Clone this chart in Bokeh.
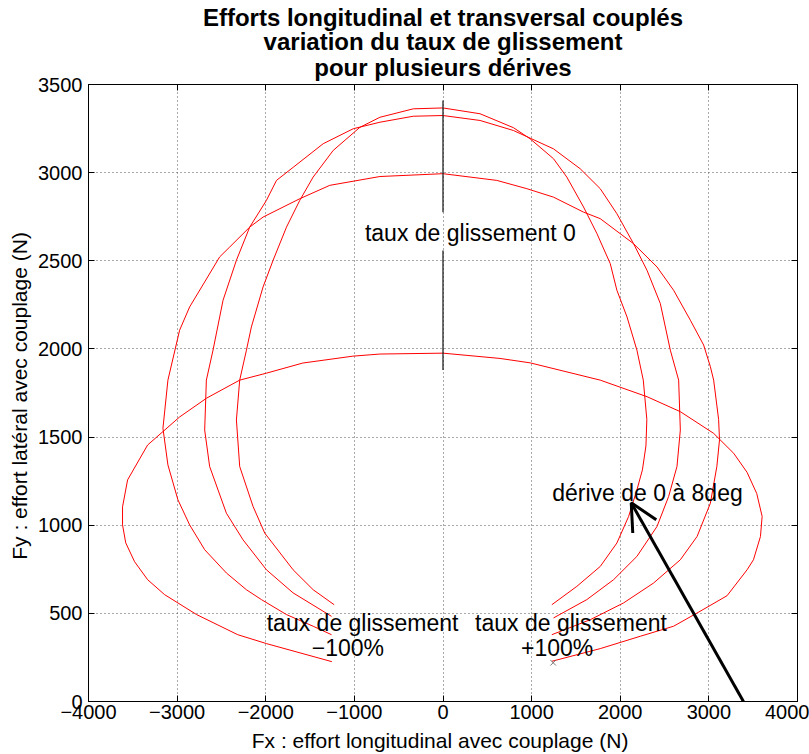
from bokeh.plotting import figure
from bokeh.models import Range1d, LinearAxis, FixedTicker, Label, Arrow, OpenHead, Title
from bokeh.embed import file_html
from bokeh.resources import INLINE

# ---- data ----
x_ticks = [-4000, -3000, -2000, -1000, 0, 1000, 2000, 3000, 4000]
x_tick_labels = ["\u22124000", "\u22123000", "\u22122000", "\u22121000", "0", "1000", "2000", "3000", "4000"]
y_ticks = [0, 500, 1000, 1500, 2000, 2500, 3000, 3500]
y_tick_labels = ["0", "500", "1000", "1500", "2000", "2500", "3000", "3500"]

# slip from -100% (left end) through 0 (top) to +100% (right end)
fx_derive_2 = [-1254, -1989, -2316, -2780, -3141, -3333, -3480, -3580, -3616, -3616, -3559, -3333, -2972,
               -2667, -2294, -1989, -1582, -1017, -712, 0, 644, 983, 1774, 2302, 2678, 3054, 3280, 3431,
               3540, 3601, 3582, 3503, 3431, 3205, 2867, 2602, 2226, 1774, 1228]
fy_derive_2 = [226, 328, 379, 493, 606, 691, 793, 900, 1002, 1104, 1257, 1455, 1614,
               1721, 1823, 1863, 1920, 1959, 1971, 1976, 1946, 1921, 1823, 1729, 1644, 1521, 1408, 1300,
               1180, 1050, 936, 804, 747, 600, 502, 427, 370, 300, 228]

fx_derive_4 = [-1258, -1465, -1766, -2049, -2218, -2444, -2689, -2859, -2991, -3104, -3160, -3104, -2972,
               -2859, -2689, -2520, -2407, -2181, -2030, -1616, -1277, -712, 0, 607, 946, 1247, 1586, 1774,
               2150, 2415, 2602, 2791, 2941, 3017, 3054, 3110, 3120, 3090, 3017, 2867, 2678, 2376, 2037,
               1661, 1228]
fy_derive_4 = [379, 427, 493, 578, 634, 729, 861, 1002, 1144, 1342, 1550, 1823, 2106,
               2238, 2380, 2522, 2578, 2691, 2748, 2852, 2928, 2978, 2994, 2956, 2909, 2861, 2776, 2739,
               2597, 2465, 2333, 2163, 2022, 1899, 1823, 1600, 1484, 1333, 1125, 936, 804, 672, 559,
               464, 379]

fx_derive_6 = [-1258, -1691, -1992, -2256, -2444, -2633, -2689, -2670, -2595, -2482, -2331, -2181, -1992,
               -1879, -1691, -1352, -1013, -712, -335, 0, 418, 795, 1247, 1548, 1774, 1962, 2150, 2302,
               2452, 2565, 2659, 2678, 2640, 2546, 2415, 2188, 1925, 1623, 1247]
fy_derive_6 = [483, 616, 747, 917, 1068, 1333, 1540, 1823, 1993, 2276, 2503, 2691, 2843,
               2956, 3030, 3164, 3249, 3286, 3320, 3324, 3296, 3239, 3135, 3022, 2909, 2767, 2597, 2446,
               2258, 1993, 1823, 1540, 1333, 1163, 993, 823, 691, 578, 474]

fx_derive_8 = [-1228, -1465, -1691, -2011, -2143, -2294, -2331, -2294, -2218, -2162, -2030, -1917, -1766,
               -1616, -1465, -1239, -938, -712, -335, 0, 418, 795, 983, 1247, 1397, 1586, 1737, 1887,
               1962, 2076, 2188, 2260, 2300, 2290, 2250, 2188, 2094, 1962, 1774, 1510, 1228]
fy_derive_8 = [549, 634, 747, 955, 1106, 1333, 1597, 1823, 1993, 2125, 2352, 2503, 2691,
               2843, 2975, 3126, 3257, 3314, 3362, 3367, 3334, 3255, 3192, 3079, 2975, 2805, 2654, 2484,
               2333, 2182, 1993, 1823, 1600, 1450, 1314, 1200, 1049, 899, 766, 653, 549]

curves = [(fx_derive_2, fy_derive_2), (fx_derive_4, fy_derive_4),
          (fx_derive_6, fy_derive_6), (fx_derive_8, fy_derive_8)]

# slip-0 marker line (two pieces), and the small x marker
zero_slip_fx = [0, 0]
zero_slip_fy_low = [1880, 2776]
zero_slip_fy_high = [2559, 3409]
marker_fx = [1243]
marker_fy = [220]

# arrow "dérive de 0 à 8deg"
arrow_from = (3390, 0)
arrow_to = (2124, 1127)

title_lines = ["Efforts longitudinal et transversal coupl\u00e9s",
               "variation du taux de glissement",
               "pour plusieurs d\u00e9rives"]

FONT = "Liberation Sans"

p = figure(width=809, height=754, x_range=Range1d(-4000, 4000), y_range=Range1d(0, 3500),
           output_backend="svg", toolbar_location=None,
           min_border_left=88, min_border_right=12, min_border_top=84, min_border_bottom=52)
p.background_fill_color = "white"
p.border_fill_color = "white"
p.outline_line_color = "black"
p.outline_line_width = 1

# axes
for ax in [p.xaxis[0], p.yaxis[0]]:
    ax.major_tick_in = 6
    ax.major_tick_out = 0
    ax.minor_tick_in = 0
    ax.minor_tick_out = 0
    ax.axis_line_color = "black"
    ax.major_tick_line_color = "black"
    ax.major_label_text_font = FONT
    ax.major_label_text_font_size = "20px"
    ax.major_label_text_color = "black"
    ax.axis_label_text_font = FONT
    ax.axis_label_text_font_size = "21px"
    ax.axis_label_text_font_style = "normal"
    ax.axis_label_text_color = "black"

p.xaxis[0].ticker = FixedTicker(ticks=x_ticks)
p.xaxis[0].major_label_overrides = {t: l for t, l in zip(x_ticks, x_tick_labels)}
p.xaxis[0].major_label_standoff = 3
p.xaxis[0].axis_label = "Fx : effort longitudinal avec couplage  (N)"
p.xaxis[0].axis_label_standoff = 7
p.yaxis[0].ticker = FixedTicker(ticks=y_ticks)
p.yaxis[0].major_label_overrides = {t: l for t, l in zip(y_ticks, y_tick_labels)}
p.yaxis[0].major_label_standoff = 6
p.yaxis[0].axis_label = "Fy : effort lat\u00e9ral avec couplage  (N)"
p.yaxis[0].axis_label_standoff = 4

top_axis = LinearAxis(ticker=FixedTicker(ticks=x_ticks),
                      major_label_overrides={t: "" for t in x_ticks},
                      major_label_standoff=0, major_tick_in=6, major_tick_out=0,
                      minor_tick_in=0, minor_tick_out=0, axis_line_color="black")
right_axis = LinearAxis(ticker=FixedTicker(ticks=y_ticks),
                        major_label_overrides={t: "" for t in y_ticks},
                        major_label_standoff=0, major_tick_in=6, major_tick_out=0,
                        minor_tick_in=0, minor_tick_out=0, axis_line_color="black")
p.add_layout(top_axis, "above")
p.add_layout(right_axis, "right")

p.xgrid.ticker = FixedTicker(ticks=x_ticks)
p.ygrid.ticker = FixedTicker(ticks=y_ticks)
p.grid.grid_line_color = "#555555"
p.grid.grid_line_dash = "1 3"
p.grid.grid_line_width = 1

# title: three stacked lines (first added sits closest to the plot);
# standoffs tune the height of each line's box so that lines are centred in them
title_standoffs = [1.4, -10.6, 5.4]
for line, so in reversed(list(zip(title_lines, title_standoffs))):
    p.add_layout(Title(text=line, align="center", vertical_align="middle",
                       text_font=FONT, text_font_size="24px",
                       text_font_style="bold", text_color="black", standoff=so, offset=0), "above")

# curves
for fx, fy in curves:
    p.line(fx, fy, line_color="#ff0000", line_width=1)

p.segment(x0=zero_slip_fx, y0=zero_slip_fy_low, x1=zero_slip_fx, y1=zero_slip_fy_high,
          line_color="#222222", line_width=1.3)
p.scatter(marker_fx, marker_fy, marker="x", size=8, line_color="#777777", line_width=1)

p.add_layout(Arrow(end=OpenHead(size=27, line_width=3, line_color="black"),
                   x_start=arrow_from[0], y_start=arrow_from[1],
                   x_end=arrow_to[0], y_end=arrow_to[1], line_width=3, line_color="black"))

# in-plot texts
def add_text(x, y, text, align="left"):
    p.add_layout(Label(x=x, y=y, text=text, text_font=FONT, text_font_size="23px",
                       text_align=align, text_baseline="middle", text_color="black"))

add_text(-881, 2656, "taux de glissement 0")
add_text(1232, 1183, "d\u00e9rive de 0 \u00e0 8deg")
add_text(-1989, 447, "taux de glissement")
add_text(362, 447, "taux de glissement")
add_text(-1073, 306, "\u2212100%", align="center")
add_text(1288, 306, "+100%", align="center")

open("out.html", "w").write(file_html(p, INLINE))
